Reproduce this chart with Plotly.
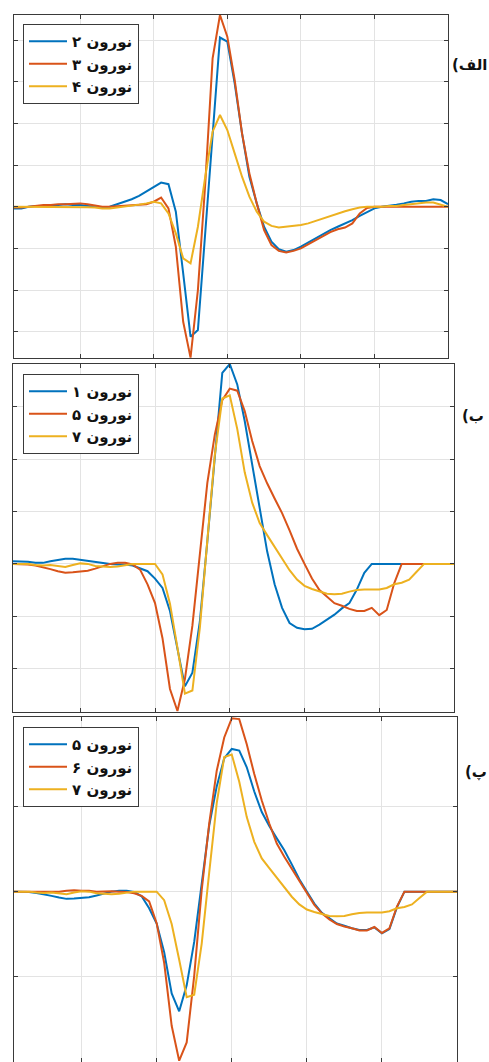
import plotly.graph_objects as go

samples = list(range(1, 61))

neuron1 = [0.05,0.05,0.04,0.02,0.02,0.05,0.08,0.1,0.1,0.08,
           0.05,0.03,0.02,0,-0.01,-0.01,-0.03,-0.08,-0.14,-0.28,
           -0.46,-0.9,-1.6,-2.34,-2.08,-1.1,0.43,2.09,3.65,3.82,
           3.43,2.73,1.9,1.01,0.24,-0.39,-0.84,-1.13,-1.22,-1.25,
           -1.24,-1.16,-1.06,-0.97,-0.85,-0.75,-0.49,-0.17,0,0,
           0,0,0,0,0,0,0,0,0,0]
neuron2 = [-0.04,-0.04,0,0.02,0.02,0.02,0.04,0.06,0.04,0.04,
           0.02,0,-0.02,0,0.06,0.12,0.18,0.26,0.36,0.48,
           0.58,0.54,-0.12,-1.6,-3.12,-2.96,-0.66,1.75,4.06,3.96,
           2.96,1.76,0.72,0.08,-0.48,-0.84,-1.02,-1.08,-1.04,-0.96,
           -0.86,-0.75,-0.66,-0.56,-0.48,-0.4,-0.32,-0.22,-0.12,-0.04,
           0,0.02,0.05,0.08,0.12,0.14,0.14,0.18,0.16,0.06]
neuron3 = [-0.02,-0.02,0,0.02,0.04,0.04,0.06,0.06,0.07,0.08,
           0.06,0.03,0,0,0.01,0.02,0.03,0.04,0.06,0.12,
           0.22,-0.04,-0.96,-2.76,-3.62,-2.0,0.55,3.56,4.6,4.08,
           3.04,1.76,0.8,0.08,-0.56,-0.92,-1.06,-1.1,-1.06,-1.0,
           -0.9,-0.8,-0.7,-0.61,-0.54,-0.5,-0.4,-0.16,-0.03,0,
           0,0,0,0,0,0,0,0,0,0]
neuron4 = [0,0,0,0,0,0,0,0,0,0,
           -0.01,-0.02,-0.04,-0.04,-0.02,0,0.02,0.05,0.08,0.12,
           0.08,-0.16,-0.64,-1.24,-1.36,-0.48,0.72,1.8,2.2,1.84,
           1.28,0.72,0.24,-0.12,-0.36,-0.46,-0.5,-0.48,-0.46,-0.44,
           -0.4,-0.34,-0.28,-0.22,-0.16,-0.11,-0.06,-0.02,0,0,
           0,0.02,0.02,0.04,0.06,0.07,0.1,0.1,0.05,0]
neuron5 = [0,0,-0.01,-0.03,-0.06,-0.1,-0.14,-0.17,-0.16,-0.14,
           -0.13,-0.09,-0.04,0,0.02,0.02,-0.01,-0.11,-0.39,-0.75,
           -1.42,-2.39,-2.81,-2.2,-1.18,0.15,1.55,2.47,3.13,3.35,
           3.31,2.92,2.35,1.87,1.54,1.25,0.97,0.64,0.29,0.0,
           -0.28,-0.5,-0.62,-0.75,-0.8,-0.86,-0.9,-0.9,-0.84,-0.98,
           -0.88,-0.37,0,0,0,0,0,0,0,0]
neuron6 = [0,0,0,0,0,-0.01,0,0.02,0.03,0.02,
           0.02,0,0.01,0.01,0,-0.01,-0.04,-0.1,-0.23,-0.74,
           -1.67,-3.15,-3.97,-3.54,-1.98,0.04,1.6,2.84,3.62,4.07,
           4.05,3.46,2.76,2.14,1.6,1.13,0.82,0.54,0.27,-0.02,
           -0.31,-0.51,-0.65,-0.76,-0.82,-0.86,-0.91,-0.91,-0.83,-0.97,
           -0.86,-0.35,0,0,0,0,0,0,0,0]
neuron7 = [0,0,0,-0.02,-0.03,-0.02,-0.04,-0.06,-0.02,0.01,
           0,-0.04,-0.05,-0.06,-0.05,-0.02,0,0,0,0,
           -0.2,-0.76,-1.6,-2.48,-2.42,-1.22,0.45,2.08,3.16,3.22,
           2.58,1.75,1.17,0.78,0.55,0.33,0.1,-0.12,-0.3,-0.42,
           -0.48,-0.53,-0.57,-0.58,-0.57,-0.53,-0.5,-0.49,-0.49,-0.49,
           -0.46,-0.39,-0.36,-0.3,-0.15,0,0,0,0,0]

panel_series = [
    [("نورون ۲", neuron2), ("نورون ۳", neuron3), ("نورون ۴", neuron4)],
    [("نورون ۱", neuron1), ("نورون ۵", neuron5), ("نورون ۷", neuron7)],
    [("نورون ۵", neuron5), ("نورون ۶", neuron6), ("نورون ۷", neuron7)],
]
panel_labels = ["الف)", "ب)", "پ)"]
x_ticks = [10, 20, 30, 40, 50]
y_ticks = [[-3, -2, -1, 0, 1, 2, 3, 4], [-2, -1, 0, 1, 2, 3], [-2, 0, 2]]
y_ranges = [[-3.63, 4.6], [-2.83, 3.82], [-4.0, 4.1]]

colors = ["#0072BD", "#D95319", "#EDB120"]
W, H = 489, 1062
FONT = "DejaVu Sans"

# pixel boxes of panels: (left, right, top, bottom)
boxes = [(14, 448, 15, 358), (13, 454, 364, 712), (14, 457, 717, 1062)]
legend_pos = [(23, 24), (23, 374), (23, 727)]
label_pos = [(470, 65), (473, 416), (476, 772)]

fig = go.Figure()
layout = dict(width=W, height=H, margin=dict(l=0, r=0, t=0, b=0),
              paper_bgcolor="white", plot_bgcolor="white", showlegend=True)
annotations = []
for p, series in enumerate(panel_series):
    sfx = "" if p == 0 else str(p + 1)
    leg = "legend" if p == 0 else "legend" + str(p + 1)
    for k, (name, vals) in enumerate(series):
        fig.add_trace(go.Scatter(x=samples, y=vals, mode="lines", name=name,
                                 line=dict(color=colors[k], width=2),
                                 xaxis="x" + sfx, yaxis="y" + sfx, legend=leg,
                                 hoverinfo="skip"))
    l, r, t, b = boxes[p]
    common = dict(showline=True, mirror="ticks", linecolor="#3a3a3a", linewidth=1,
                  ticks="inside", ticklen=4, tickcolor="#3a3a3a",
                  showticklabels=False, showgrid=True, gridcolor="#e3e3e3",
                  gridwidth=1, zeroline=False, fixedrange=True)
    layout["xaxis" + sfx] = dict(common, domain=[l / W, r / W], range=[1, 60],
                                 tickvals=x_ticks,
                                 anchor="y" + sfx)
    layout["yaxis" + sfx] = dict(common, domain=[1 - b / H, 1 - t / H],
                                 range=y_ranges[p], tickvals=y_ticks[p],
                                 anchor="x" + sfx)
    lx, ly = legend_pos[p]
    layout[leg] = dict(x=lx / W, y=1 - ly / H, xanchor="left", yanchor="top",
                       bgcolor="white", bordercolor="#3a3a3a", borderwidth=1,
                       font=dict(family=FONT, size=15, color="#111", weight="bold"),
                       itemwidth=38, tracegroupgap=0)
    ax, ay = label_pos[p]
    annotations.append(dict(x=ax / W, y=1 - ay / H, xref="paper", yref="paper",
                            text="\u202b" + panel_labels[p] + "\u202c",
                            showarrow=False, xanchor="center", yanchor="middle",
                            font=dict(family=FONT, size=15, color="#111",
                                      weight="bold")))
layout["annotations"] = annotations
fig.update_layout(**layout)
fig.write_html("out.html",
               config={"displayModeBar": False, "staticPlot": True},
               post_script="document.body.style.margin='0';"
                           "document.body.style.padding='0';"
                           "document.body.style.overflow='hidden';"
                           "document.documentElement.style.overflow='hidden';"
                           "document.querySelectorAll('.annotation-text').forEach("
                           "function(e){e.setAttribute('direction','rtl');"
                           "e.style.direction='rtl';e.style.unicodeBidi='embed';});")
